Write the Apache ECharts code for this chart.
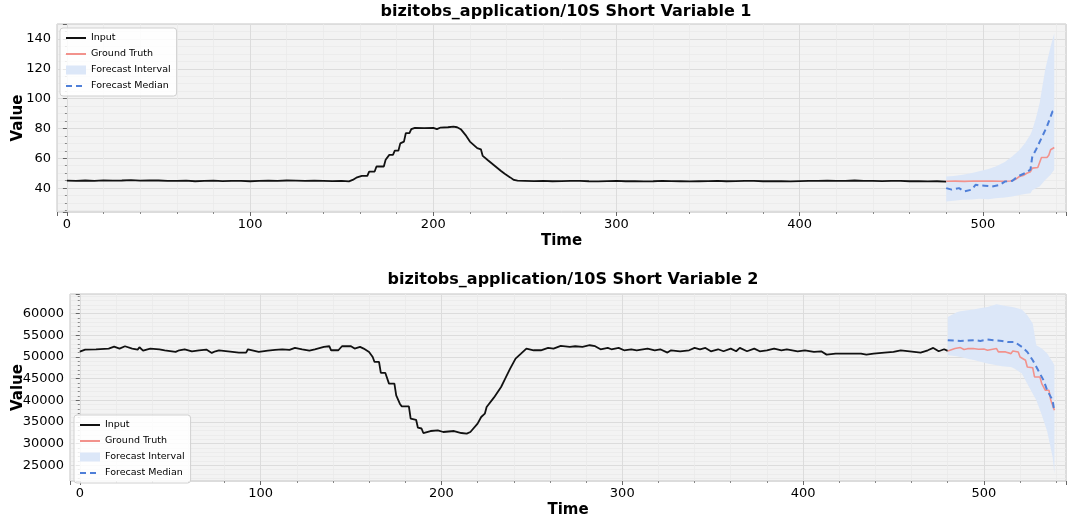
<!DOCTYPE html>
<html><head><meta charset="utf-8">
<script src="https://cdn.jsdelivr.net/npm/echarts@6/dist/echarts.min.js"></script>
<style>html,body{margin:0;padding:0;background:#fff}#c{width:1080px;height:525px}</style>
</head><body><div id="c"></div>
<script>
// ---------- Chart 1 data ----------
const title1 = 'bizitobs_application/10S Short Variable 1';
const inputTime1 = [0,5,10,15,20,25,30,35,40,45,50,55,60,65,70,75,80,85,90,95,100,105,110,115,120,125,130,135,140,145,150,
  154,156,158,161,164,165,168,169,173,174,176,178,179,181,182,184,185,187,188,190,195,200,202,204,208,211,213,215,218,220,222,224,226,227,230,234,237,239,242,244,246,
  250,255,260,265,270,275,280,285,290,295,300,305,310,315,320,325,330,335,340,345,350,355,360,365,370,375,380,385,390,395,
  400,405,410,415,420,425,430,435,440,445,450,455,460,465,470,475,480];
const inputVal1 = [45.0,44.8,45.1,44.9,45.2,45.0,45.1,45.3,45.0,45.2,45.1,44.9,44.8,45.0,44.6,44.9,45.0,44.7,44.9,44.8,44.6,44.8,45.0,44.9,45.1,45.0,44.8,45.0,44.9,44.7,44.9,
  44.5,45.5,47.0,48.2,48.2,51.1,51.1,54.5,54.5,59.0,62.3,62.3,65.2,65.2,70.0,71.2,76.8,76.8,79.5,80.4,80.2,80.4,79.5,80.6,80.8,81.2,80.8,79.5,75.0,71.2,69.0,66.8,66.0,61.6,58.5,54.5,51.5,49.6,47.2,45.5,45.0,
  44.9,44.7,44.8,44.6,44.7,44.9,44.8,44.6,44.5,44.7,44.8,44.6,44.7,44.5,44.6,44.8,44.7,44.6,44.5,44.6,44.7,44.8,44.6,44.7,44.9,44.8,44.6,44.7,44.6,44.5,
  44.7,44.8,44.9,45.0,44.8,44.9,45.1,44.9,44.8,44.7,44.9,44.8,44.6,44.7,44.5,44.6,44.4];
const truthTime1 = [480,485,490,495,500,505,510,515,518,520,522,524,526,527,530,531,532,535,536,537,539];
const truthVal1 = [44.6,44.7,44.5,44.8,44.7,44.8,44.6,44.8,46.0,47.8,48.5,50.0,51.0,53.4,53.8,54.5,60.5,60.5,62.0,65.7,67.2];
const medTime1 = [480,483,487,490,494,496,498,501,505,509,512,516,519,523,526,527,529,532,535,538,539];
const medVal1 = [40.0,39.0,40.0,37.8,39.0,42.2,41.8,41.6,41.1,42.0,44.4,44.8,47.8,50.0,52.4,61.2,65.7,73.5,81.3,91.3,92.0];
const bandTime1 = [480,484,489,494,498,503,507,512,516,520,523,526,527,529,531,534,537,539];
const bandLow1 = [31.0,31.5,32.2,32.4,32.8,32.6,33.2,33.8,34.4,35.4,36.0,36.6,38.5,40.0,41.1,45.5,49.0,52.3];
const bandHigh1 = [47.8,48.2,49.0,50.2,51.3,52.8,54.5,57.5,61.2,65.5,70.0,76.0,79.0,87.0,96.9,119.2,134.9,143.8];

// ---------- Chart 2 data ----------
const title2 = 'bizitobs_application/10S Short Variable 2';
const inputTime2 = [0,3,9,16,19,22,25,29,32,33,35,39,44,47,53,55,58,62,66,70,73,75,77,82,88,92,93,99,104,108,112,116,119,123,127,130,135,138,139,143,145,150,152,155,157,160,162,163,165.5,166.5,169,171,174,175,177,178,182,183,186,187,189,190,194,198,201,207,211,214,216,220,222,224,225,229,233,235,238,241,244,247,251,255,259,262,266,271,274,278,282,285,288,292,294,298,301,305,308,314,318,321,325,327,332,337,340,343,346,349,353,356,360,363,365,369,373,376,380,384,388,391,397,401,406,410,413,418,424,432,435,439,445,450,454,459,465,469,472,475,478,480];
const inputVal2 = [51200,51690,51760,51920,52380,51920,52460,51920,51690,52230,51460,51920,51760,51530,51150,51530,51760,51300,51530,51690,50920,51300,51530,51300,51000,51000,51760,51150,51460,51610,51760,51610,52070,51760,51460,51760,52300,52460,51530,51530,52460,52460,51920,52300,51920,51150,49990,48840,48840,46300,46300,43840,43840,41150,39230,38610,38610,35770,35500,33690,33500,32460,32920,33080,32690,32920,32460,32310,32690,34620,36150,36920,38460,40610,43070,44770,47300,49610,50760,51920,51530,51530,52070,51920,52530,52300,52460,52300,52690,52460,51760,52070,51760,52070,51530,51760,51530,51920,51530,51760,51000,51530,51300,51530,52070,51760,52070,51300,51760,51300,51920,51300,52070,51300,51920,51300,51530,51920,51530,51760,51300,51530,51150,51300,50530,50760,50760,50760,50530,50760,51000,51150,51530,51300,51000,51530,52070,51300,51760,51380];
const truthTime2 = [480,484,487,489,491,494,497,500,502,503,507,508,512,513,515,516,519,520,523,524,527,528,531,532,534,536,537,538,539];
const truthVal2 = [51380,51920,52150,51700,51900,51920,51750,51800,51530,51920,51920,51150,51150,51530,50760,51380,51150,49990,49230,47690,47500,45380,45380,43840,42300,42300,40000,38840,37690];
const medTime2 = [480,487,495,498,502,506,510,513,517,521,524,527,530,533,535,538,539];
const medVal2 = [53840,53690,53840,53690,54000,53840,53690,53460,53460,52300,51150,49230,46920,44610,42300,40000,37300];
const bandTime2 = [480,485,487,491,495,497,502,507,510,513,515,517,521,524,527,529,532,535,538,539];
const bandLow2 = [50380,50150,49990,49600,49230,49000,48460,48100,47840,47750,47690,47300,46150,43840,41500,40000,36600,32800,26930,23080];
const bandHigh2 = [59220,60300,60500,60760,61000,61150,61530,62150,61920,61690,61550,61380,60920,59610,57690,52690,51920,50760,48800,48070];

const legendNames = ['Input','Ground Truth','Forecast Interval','Forecast Median'];

// ---------- styling ----------
const FONT = 'DejaVu Sans';
const C_INPUT = '#111111', C_TRUTH = '#f2928c', C_MED = '#4f7fd8', C_BAND = '#dce7f8';

const zip = (a, b) => a.map((t, i) => [t, b[i]]);

function bandSeries(times, lo, hi, idx) {
  return {
    type: 'custom', name: 'Forecast Interval', xAxisIndex: idx, yAxisIndex: idx, z: 1,
    itemStyle: { color: C_BAND },
    data: times.map((t, i) => [t, lo[i], hi[i]]),
    encode: { x: 0, y: [1, 2] },
    silent: true,
    renderItem: function (params, api) {
      if (params.dataIndex !== 0) return;
      const pts = [];
      for (let i = 0; i < times.length; i++) pts.push(api.coord([times[i], hi[i]]));
      for (let i = times.length - 1; i >= 0; i--) pts.push(api.coord([times[i], lo[i]]));
      return { type: 'polygon', shape: { points: pts }, style: { fill: C_BAND } };
    }
  };
}
function lineSeries(name, data, color, width, dashed, idx, z) {
  return {
    type: 'line', name: name, xAxisIndex: idx, yAxisIndex: idx, data: data,
    showSymbol: false, symbol: 'none', z: z, silent: true, animation: false,
    lineStyle: { color: color, width: width, type: dashed ? [6, 4] : 'solid' },
    itemStyle: { color: color }
  };
}
function xAxisCfg(idx) {
  return {
    type: 'value', gridIndex: idx, min: -5.4, max: 545.4, splitNumber: 5,
    name: 'Time', nameLocation: 'middle', nameGap: 22, nameMoveOverlap: false,
    nameTextStyle: { fontFamily: FONT, fontSize: 15, fontWeight: 'bold', color: '#000' },
    axisLine: { show: false },
    axisTick: { show: true, length: 4, lineStyle: { color: '#666' } },
    minorTick: { show: true, splitNumber: 5, length: 2, lineStyle: { color: '#888' } },
    axisLabel: { fontFamily: FONT, fontSize: 13, color: '#000', margin: 6, showMinLabel: false, showMaxLabel: false,
      formatter: v => String(v) },
    splitLine: { show: true, lineStyle: { color: '#dcdcdc', width: 1 } },
    minorSplitLine: { show: true, lineStyle: { color: '#eaeaea', width: 0.8 } }
  };
}
function yAxisCfg(idx, min, max, splitNumber, minorSplit, gap) {
  return {
    type: 'value', gridIndex: idx, min: min, max: max, splitNumber: splitNumber,
    name: 'Value', nameLocation: 'middle', nameGap: gap, nameRotate: 90, nameMoveOverlap: false,
    nameTextStyle: { fontFamily: FONT, fontSize: 15, fontWeight: 'bold', color: '#000' },
    axisLine: { show: false },
    axisTick: { show: true, length: 4, lineStyle: { color: '#666' } },
    minorTick: { show: true, splitNumber: minorSplit, length: 2, lineStyle: { color: '#888' } },
    axisLabel: { fontFamily: FONT, fontSize: 13, color: '#000', margin: 6, showMinLabel: false, showMaxLabel: false,
      formatter: v => String(v) },
    splitLine: { show: true, lineStyle: { color: '#dcdcdc', width: 1 } },
    minorSplitLine: { show: true, lineStyle: { color: '#eaeaea', width: 0.8 } }
  };
}
function legendCfg(left, top) {
  return {
    data: [
      { name: 'Input', itemStyle: { opacity: 0 } },
      { name: 'Ground Truth', itemStyle: { opacity: 0 } },
      { name: 'Forecast Interval', icon: 'rect' },
      { name: 'Forecast Median', itemStyle: { opacity: 0 } }
    ],
    orient: 'vertical', left: left, top: top, itemWidth: 20, itemHeight: 9, itemGap: 6,
    padding: [5, 6, 5, 5], backgroundColor: 'rgba(255,255,255,0.85)',
    borderColor: '#d0d0d0', borderWidth: 1, borderRadius: 3,
    textStyle: { fontFamily: FONT, fontSize: 9.5, color: '#000' },
    selectedMode: false
  };
}

const chart = echarts.init(document.getElementById('c'), null, { renderer: 'canvas' });
chart.setOption({
  animation: false,
  backgroundColor: '#ffffff',
  title: [
    { text: title1, left: 561, top: -1, textAlign: 'center',
      textStyle: { fontFamily: FONT, fontSize: 16, fontWeight: 'bold', color: '#000' } },
    { text: title2, left: 568, top: 267, textAlign: 'center',
      textStyle: { fontFamily: FONT, fontSize: 16, fontWeight: 'bold', color: '#000' } }
  ],
  legend: [legendCfg(60, 28), legendCfg(74, 415)],
  grid: [
    { left: 57, top: 24, width: 1009, height: 188, show: true, backgroundColor: '#f3f3f3', borderColor: '#c4c4c4', borderWidth: 1,
      containLabel: false, outerBoundsMode: 'none' },
    { left: 70, top: 294, width: 996, height: 187, show: true, backgroundColor: '#f3f3f3', borderColor: '#c4c4c4', borderWidth: 1,
      containLabel: false, outerBoundsMode: 'none' }
  ],
  xAxis: [xAxisCfg(0), xAxisCfg(1)],
  yAxis: [yAxisCfg(0, 24, 150, 6, 4, 31), yAxisCfg(1, 21400, 64500, 8, 5, 44)],
  series: [
    bandSeries(bandTime1, bandLow1, bandHigh1, 0),
    lineSeries('Input', zip(inputTime1, inputVal1), C_INPUT, 1.8, false, 0, 3),
    lineSeries('Ground Truth', zip(truthTime1, truthVal1), C_TRUTH, 1.6, false, 0, 3),
    lineSeries('Forecast Median', zip(medTime1, medVal1), C_MED, 2, true, 0, 4),
    bandSeries(bandTime2, bandLow2, bandHigh2, 1),
    lineSeries('Input', zip(inputTime2, inputVal2), C_INPUT, 1.8, false, 1, 3),
    lineSeries('Ground Truth', zip(truthTime2, truthVal2), C_TRUTH, 1.6, false, 1, 3),
    lineSeries('Forecast Median', zip(medTime2, medVal2), C_MED, 2, true, 1, 4)
  ]
});
</script>
</body></html>
